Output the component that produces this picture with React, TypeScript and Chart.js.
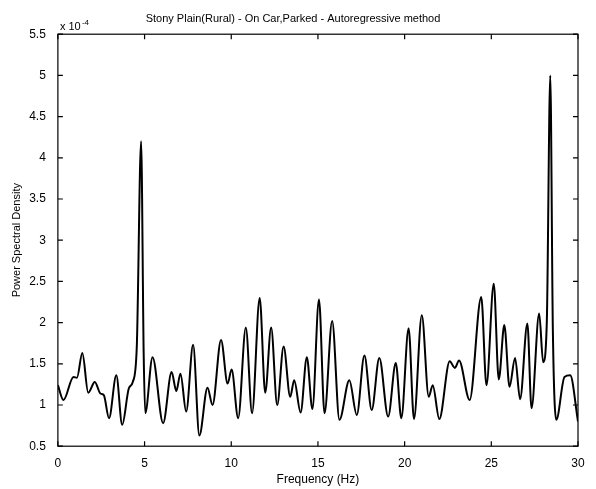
import React, { useEffect, useRef } from "react";
import { Chart, registerables } from "chart.js";
Chart.register(...registerables);

const freq = [0,0.32,0.9,1.1,1.41,1.75,2.13,2.45,2.65,2.95,3.37,3.71,4.09,4.32,4.55,4.8,4.95,5.04,5.46,6.07,6.56,6.83,7.07,7.4,7.8,8.16,8.63,8.92,9.41,9.79,10.02,10.4,10.84,11.2,11.64,11.96,12.3,12.65,13.02,13.4,13.63,14.0,14.36,14.68,15.06,15.38,15.82,16.24,16.81,17.24,17.68,18.1,18.54,19.05,19.49,19.81,20.23,20.54,20.99,21.39,21.62,22.0,22.6,22.9,23.14,23.75,24.42,24.72,25.14,25.43,25.75,26.05,26.37,26.66,27.08,27.32,27.76,27.99,28.2,28.4,28.55,28.75,29.22,29.55,30];
const psd = [1.24,1.06,1.34,1.33,1.63,1.15,1.28,1.14,1.12,0.84,1.36,0.76,1.2,1.28,1.7,4.2,1.6,0.9,1.58,0.78,1.4,1.17,1.38,0.92,1.73,0.63,1.21,1.0,1.79,1.26,1.43,0.84,1.94,0.9,2.3,1.15,1.94,1.0,1.71,1.1,1.3,0.91,1.58,0.95,2.28,0.9,2.02,0.82,1.3,0.88,1.6,0.94,1.57,0.86,1.51,0.84,1.93,0.83,2.09,1.1,1.24,0.83,1.53,1.45,1.54,1.06,2.31,1.24,2.47,1.31,1.97,1.22,1.57,1.07,1.99,0.96,2.11,1.52,2.0,5.0,1.9,0.82,1.34,1.36,0.8];
const xTicks = [0,5,10,15,20,25,30];
const yTicks = [0.5,1,1.5,2,2.5,3,3.5,4,4.5,5,5.5];
const FONT = "Liberation Sans";

export default function App() {
  const ref = useRef<HTMLCanvasElement>(null);
  useEffect(() => {
    document.body.style.margin = "0";
    const frame = {
      id: "frame",
      afterDraw(c: any) {
        const { ctx, chartArea: a, scales } = c;
        ctx.save();
        ctx.strokeStyle = "#000";
        ctx.lineWidth = 1.2;
        ctx.strokeRect(a.left, a.top, a.right - a.left, a.bottom - a.top);
        ctx.beginPath();
        for (const t of xTicks) {
          const x = scales.x.getPixelForValue(t);
          ctx.moveTo(x, a.bottom); ctx.lineTo(x, a.bottom - 5);
          ctx.moveTo(x, a.top); ctx.lineTo(x, a.top + 5);
        }
        for (const t of yTicks) {
          const y = scales.y.getPixelForValue(t);
          ctx.moveTo(a.left, y); ctx.lineTo(a.left + 5, y);
          ctx.moveTo(a.right, y); ctx.lineTo(a.right - 5, y);
        }
        ctx.stroke();
        ctx.fillStyle = "#000";
        ctx.font = `11px '${FONT}'`;
        ctx.textBaseline = "bottom";
        ctx.fillText("x 10", a.left + 2, a.top - 2);
        ctx.font = `8px '${FONT}'`;
        ctx.fillText("-4", a.left + 24, a.top - 7);
        ctx.restore();
      },
    };
    const chart = new Chart(ref.current!, {
      type: "line",
      data: {
        datasets: [{
          data: freq.map((f, i) => ({ x: f, y: psd[i] })),
          borderColor: "#000",
          borderWidth: 2,
          pointRadius: 0,
          cubicInterpolationMode: "monotone",
        }],
      },
      options: {
        animation: false,
        responsive: false,
        layout: { padding: { top: 12, right: 18, left: 8, bottom: 2 } },
        plugins: {
          legend: { display: false },
          tooltip: { enabled: false },
          title: {
            display: true,
            text: "Stony Plain(Rural) - On Car,Parked - Autoregressive method",
            color: "#000",
            font: { family: FONT, size: 11, weight: "normal" },
            padding: { top: 0, bottom: 9 },
          },
        },
        scales: {
          x: {
            type: "linear", min: 0, max: 30,
            afterBuildTicks: (s: any) => { s.ticks = xTicks.map((v) => ({ value: v })); },
            grid: { display: false },
            border: { display: false },
            ticks: { color: "#000", font: { family: FONT, size: 12 }, maxRotation: 0, padding: 2, callback: (v: any) => String(v) },
            title: { display: true, text: "Frequency (Hz)", color: "#000", font: { family: FONT, size: 12 }, padding: 0 },
          },
          y: {
            type: "linear", min: 0.5, max: 5.5,
            afterBuildTicks: (s: any) => { s.ticks = yTicks.map((v) => ({ value: v })); },
            grid: { display: false },
            border: { display: false },
            ticks: { color: "#000", font: { family: FONT, size: 12 }, padding: 4, callback: (v: any) => String(v) },
            title: { display: true, text: "Power Spectral Density", color: "#000", font: { family: FONT, size: 11 }, padding: 2 },
          },
        },
      },
      plugins: [frame],
    } as any);
    return () => chart.destroy();
  }, []);
  return <canvas ref={ref} width={596} height={489} style={{ display: "block" }} />;
}
